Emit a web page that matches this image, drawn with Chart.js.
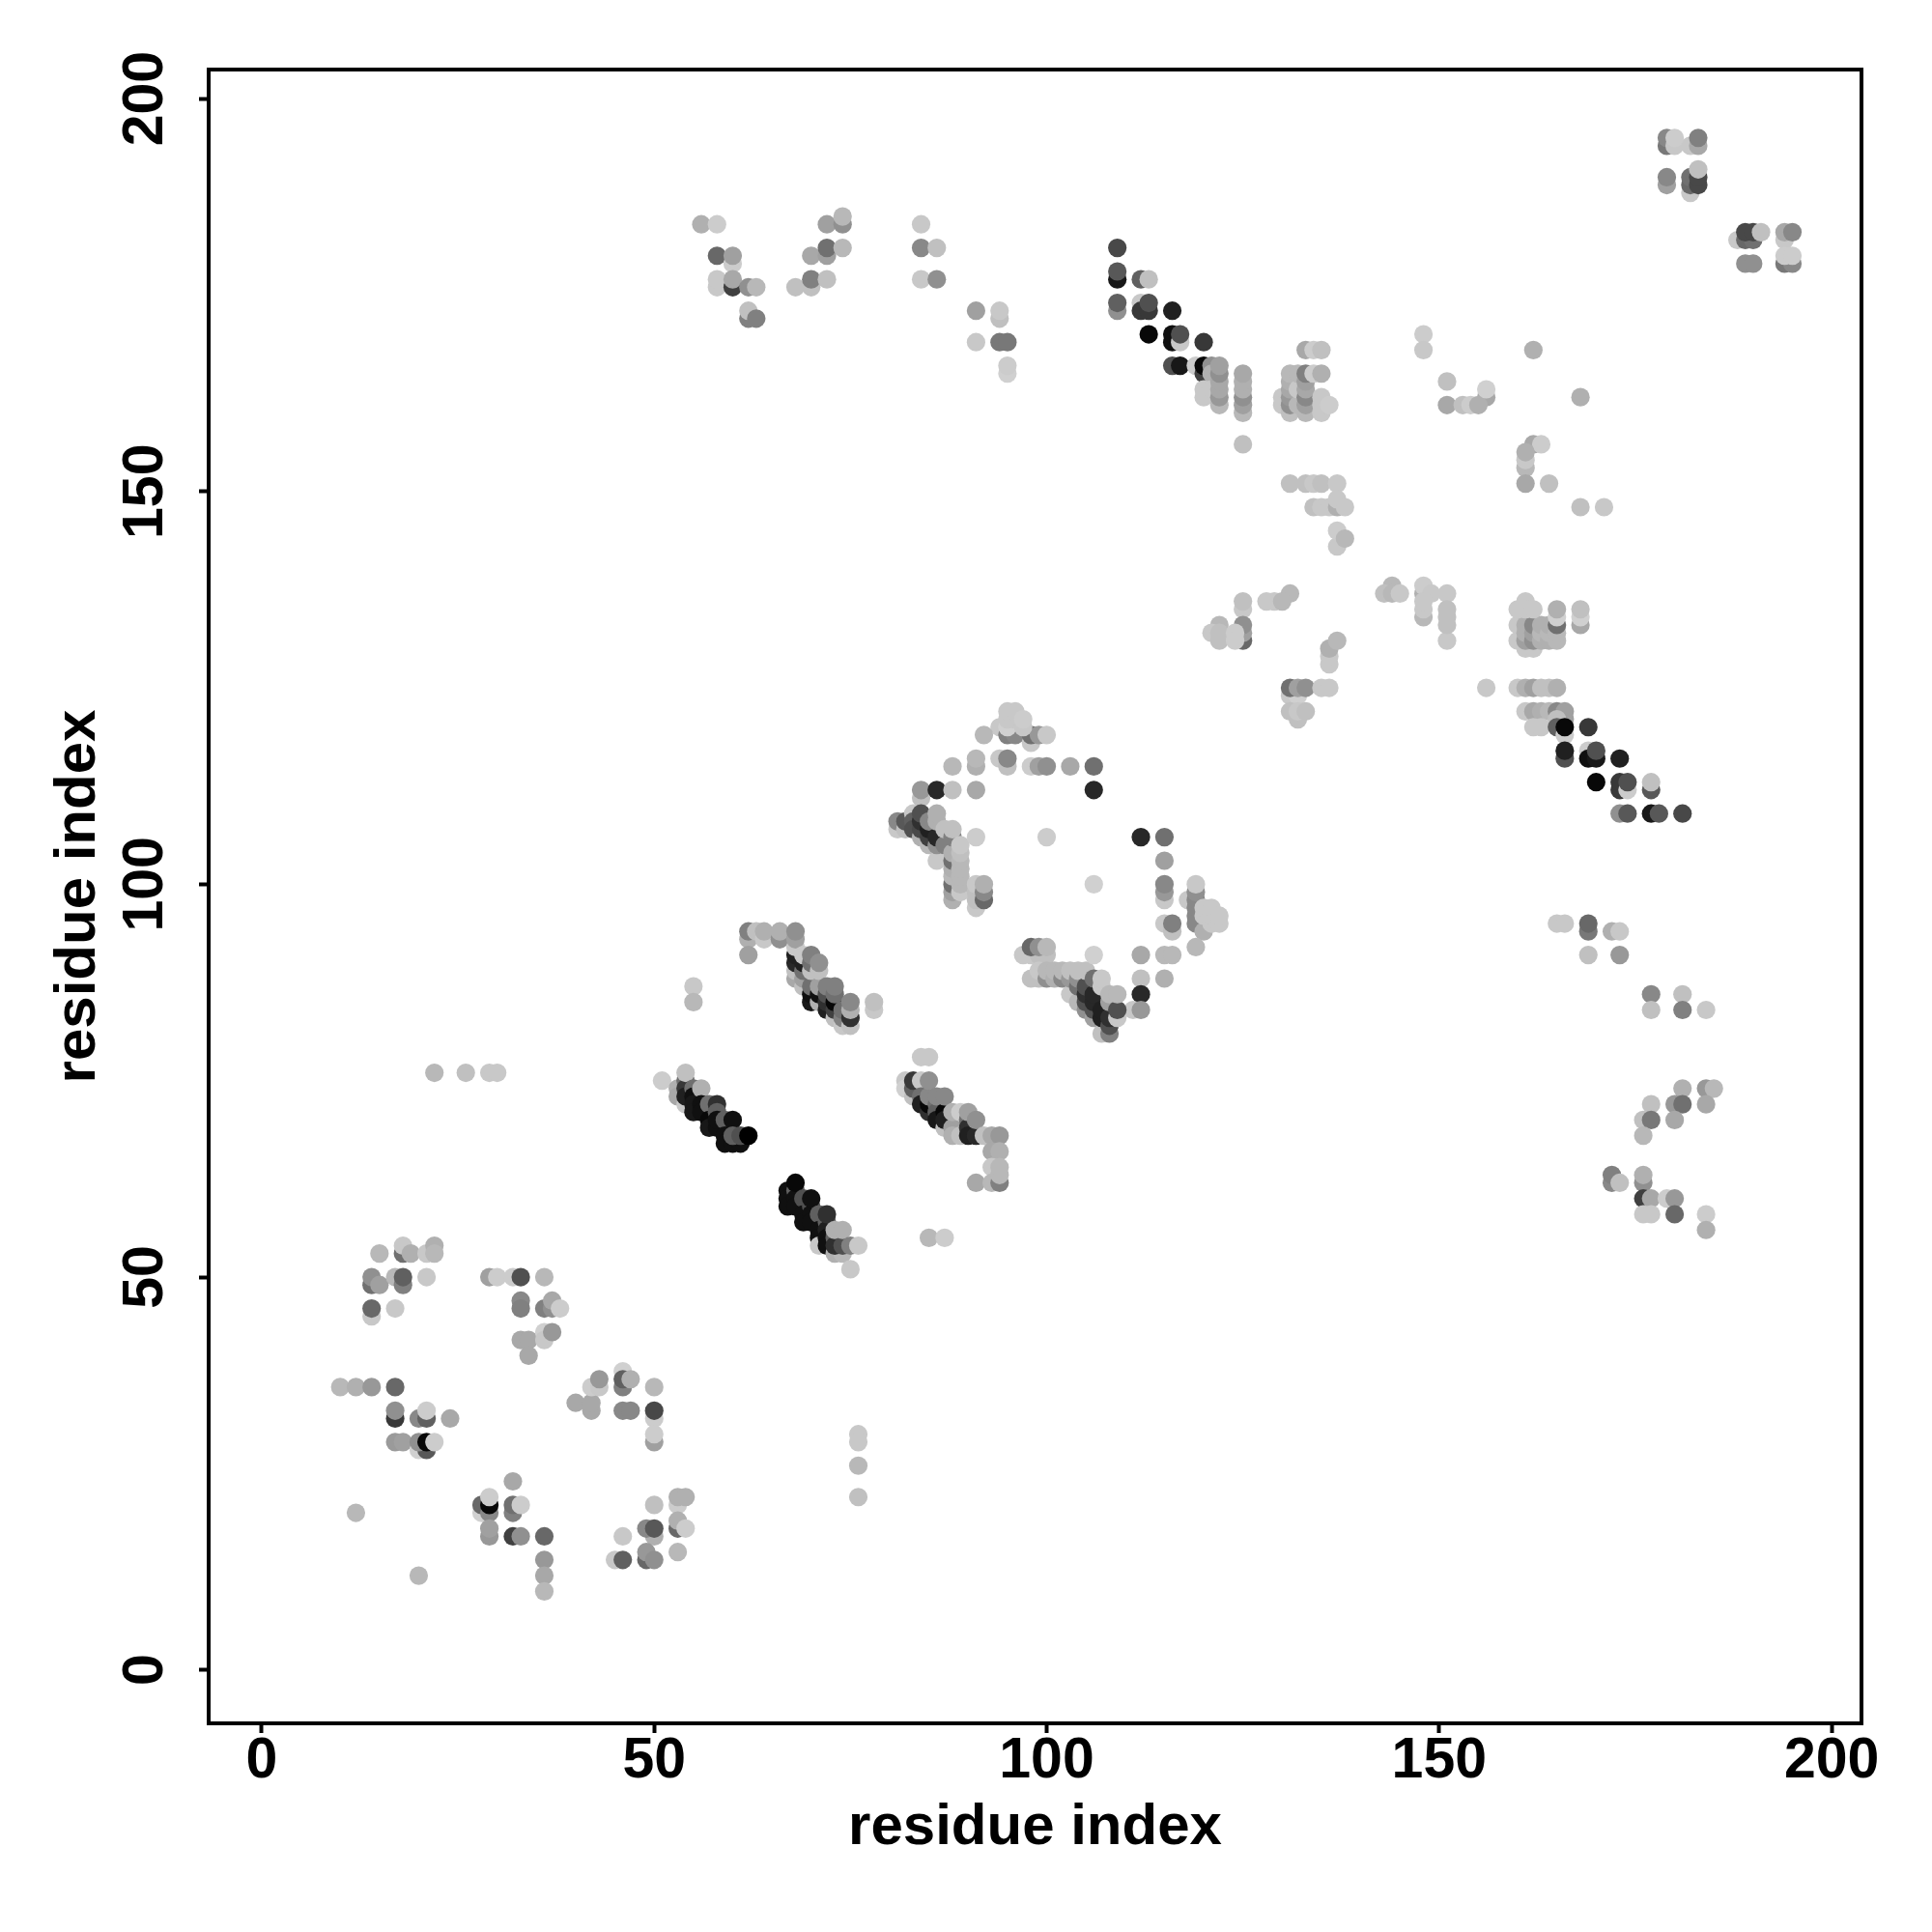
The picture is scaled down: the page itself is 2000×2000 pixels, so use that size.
<!DOCTYPE html>
<html lang="en">
  <head>
    <meta charset="UTF-8" />
    <title>residue contacts</title>
    <script src="https://cdn.jsdelivr.net/npm/chart.js@4/dist/chart.umd.min.js"></script>
    <style>
      body {
        margin: 0;
        padding: 0;
        background: white;
      }
    </style>
  </head>
  <body>
    <canvas id="contacts" width="2000" height="2000"></canvas>
    <script>
      // every contact is [residue x, residue y, grey level]
      const tickValues = [0, 50, 100, 150, 200]
      const xLimits = [-6.76, 203.8]
      const yLimits = [-6.8, 203.7]

      const lowerLeftA = [[15,53,0xb8],[18,53,0x70],[18,54,0xc8],[19,53,0xb0],[21,53,0xc8],[22,54,0xb0],[22,53,0xb8],[14,49,0x70],[14,50,0x90],[15,49,0xa0],[17,50,0xb8],[18,49,0x80],[18,50,0x60],[21,50,0xc8],[14,45,0xc8],[14,46,0x68],[17,46,0xc8]]
      const lowerLeftB = [[29,50,0xa0],[30,50,0xcc],[32,50,0xcc],[33,50,0x50],[36,50,0xb8],[33,47,0x88],[33,46,0x80],[36,46,0x80],[37,46,0x90],[37,47,0xa8],[38,46,0xcc],[33,42,0xa8],[34,42,0xa8],[34,40,0xa8],[36,43,0xd0],[36,42,0xc8],[37,43,0x98]]
      const lowerLeftC = [[10,36,0xb8],[12,36,0xb0],[14,36,0x98],[17,36,0x68],[17,32,0x38],[17,33,0x90],[20,32,0x88],[21,32,0x60],[21,33,0xcc],[24,32,0xa8],[17,29,0x9a],[18,29,0xa0],[20,28,0xd0],[21,28,0x58],[20,29,0x90],[21,29,0x08],[22,29,0xcc]]
      const lowerLeftD = [[40,34,0xa8],[42,33,0xa8],[42,34,0xa8],[42,36,0xcc],[43,36,0xc8],[43,37,0x98],[46,38,0xd0],[46,36,0x80],[46,37,0x60],[47,37,0xb0],[46,33,0x88],[47,33,0x88],[50,36,0xb8],[50,32,0xcc],[50,33,0x48],[50,29,0xa0],[50,30,0xcc]]
      const lowerLeftE = [[12,20,0xb8],[20,12,0xb8],[32,24,0xa8],[28,20,0xd0],[28,21,0x68],[29,20,0x88],[29,21,0x08],[29,22,0xcc],[29,17,0x98],[29,18,0xa0],[32,20,0x80],[32,21,0x70],[33,21,0xcc],[32,17,0x40],[33,17,0x90],[36,17,0x68],[36,14,0x98],[36,12,0xa8],[36,10,0xb8]]
      const lowerLeftF = [[50,21,0xc0],[53,21,0xcc],[53,22,0xb0],[54,22,0xb0],[53,18,0x68],[53,19,0xb0],[54,18,0xcc],[53,15,0xb8],[50,17,0xb0],[49,18,0x88],[50,18,0x58],[46,17,0xc8],[45,14,0xc8],[46,14,0x60],[49,14,0x68],[49,15,0x98],[50,14,0x90]]
      const strays = [[22,76,0xb8],[26,76,0xc0],[29,76,0xc8],[30,76,0xc8],[55,87,0xc8],[55,85,0xb8],[76,30,0xc8],[76,29,0xc8],[76,26,0xb8],[76,22,0xc0],[85,55,0xb8],[87,55,0xcc],[100,106,0xcc],[106,100,0xd0]]

      const bandA = [[51,75,0xcc],[53,74,0xb0],[53,73,0xa8],[54,72,0xc8],[54,75,0x70],[54,74,0x38],[54,73,0x20],[54,76,0xc0],[55,74,0x70],[55,73,0x10],[55,72,0x18],[56,74,0xb0],[55,71,0x18],[56,72,0x10],[56,71,0x10],[57,72,0x70],[58,72,0x30],[57,70,0x08],[57,69,0x18],[58,71,0x60],[58,69,0x10],[58,70,0x10],[59,70,0x60],[59,68,0x10],[60,70,0x10],[59,67,0x10],[60,67,0x10],[61,67,0x10],[60,68,0x60],[61,68,0x50],[62,68,0x00]]
      const bandB = [[67,61,0x10],[67,60,0x10],[67,59,0x10],[68,61,0x60],[68,60,0x10],[68,59,0x10],[68,62,0x08],[69,60,0x50],[69,58,0x10],[69,57,0x10],[70,59,0x50],[70,58,0x10],[70,57,0x10],[70,60,0x10],[71,58,0x60],[71,56,0x10],[71,55,0x10],[71,54,0xc8],[72,57,0x60],[72,56,0x20],[72,55,0x10],[72,54,0x10],[72,58,0x30],[73,53,0xb0],[74,53,0xb8],[73,55,0x60],[73,54,0x30],[73,56,0xb0],[74,54,0x50],[74,56,0xb0],[75,54,0x80],[76,54,0xc8],[75,51,0xc8]]
      const bandC = [[84,78,0xc8],[85,78,0xc8],[82,75,0xc8],[82,74,0xd0],[83,73,0xc0],[83,74,0x60],[83,75,0x38],[84,75,0xc8],[84,73,0x70],[84,72,0x20],[85,71,0x30],[85,72,0x08],[85,73,0x88],[85,75,0x90],[86,72,0x70],[86,71,0x60],[86,70,0x18],[86,73,0x88],[87,69,0xc0],[87,71,0x08],[87,70,0x20],[87,73,0x88],[88,69,0xa0],[88,68,0xb0],[88,71,0xb0],[89,68,0xc0],[89,71,0xcc],[90,70,0x70],[90,69,0x30],[90,68,0x20],[90,71,0xa0],[91,68,0x28],[91,70,0x90],[92,68,0xc0],[93,68,0xa8],[94,68,0x98],[93,66,0xa8],[94,66,0xb0],[93,64,0xc8],[91,62,0xa8],[93,62,0xb8],[94,62,0x80],[94,63,0xb8],[94,64,0xb8]]
      const bandD = [[62,93,0xb0],[62,94,0x80],[62,91,0xa0],[63,94,0xc0],[64,93,0xc8],[64,94,0xb0],[66,93,0x90],[66,94,0xb0],[68,88,0xa8],[68,89,0xc0],[68,90,0x28],[68,91,0x20],[68,92,0xc8],[68,93,0xa0],[68,94,0x90],[69,87,0xc0],[69,88,0xa0],[69,89,0x70],[69,90,0x20],[69,91,0xc8],[70,85,0x18],[70,86,0x10],[70,87,0x70],[70,89,0xc0],[70,90,0x70],[70,91,0x80],[71,85,0xb0],[71,86,0x10],[71,87,0xa0],[71,89,0xc0],[71,90,0x90],[72,84,0x20],[72,85,0x30],[72,86,0x50],[72,87,0x80],[73,83,0xc0],[73,84,0x40],[73,85,0x08],[73,86,0x70],[73,87,0x80],[74,82,0xc8],[74,83,0x80],[74,84,0x70],[75,82,0xc0],[75,83,0x30],[75,84,0xb0],[75,85,0x88],[78,84,0xc8],[78,85,0xc0]]

      const arcTop = [[94,120,0xc8],[92,119,0xb8],[95,119,0x80],[96,119,0x88],[95,120,0xd0],[95,121,0xc8],[96,121,0xc8],[95,122,0xc8],[96,122,0xc8],[98,118,0xc8],[98,119,0x70],[99,119,0x98],[97,120,0xc8],[97,121,0xcc],[100,119,0xc8],[88,115,0xb8],[91,115,0xb0],[91,116,0xb8],[94,116,0xc8],[95,115,0xc0],[95,116,0x88],[98,115,0xcc],[99,115,0xa0],[100,115,0x90],[103,115,0xa8],[106,115,0x70],[84,111,0xc0],[84,112,0x98],[86,112,0x28],[88,112,0xc0],[91,112,0xa8],[106,112,0x28]]
      const arcLeft = [[81,107,0xc8],[81,108,0x88],[82,107,0xc0],[82,108,0x58],[83,109,0xc8],[83,108,0x60],[83,107,0x50],[84,106,0xb0],[84,107,0x48],[84,108,0x30],[84,109,0x50],[85,105,0xb8],[85,106,0x40],[85,107,0x20],[85,108,0x88],[86,103,0xc8],[86,105,0x90],[86,106,0x28],[86,108,0xb0],[86,109,0xb0],[87,105,0x80],[87,107,0xc0],[88,98,0xb0],[88,99,0xa0],[88,100,0x70],[88,101,0xb8],[88,102,0xb0],[88,103,0x70],[88,104,0xb0],[88,106,0x80],[88,107,0xc0],[89,99,0xc8],[89,100,0xb8],[89,101,0xb8],[89,102,0xb8],[89,103,0xb8],[89,104,0xc0],[89,105,0xc8],[91,106,0xcc],[91,97,0xc8],[91,98,0xc0],[91,99,0xc0],[91,100,0xc8],[92,98,0x68],[92,99,0x88],[92,100,0xb0]]
      const arcRight = [[112,106,0x28],[115,106,0x70],[115,103,0xa0],[115,98,0xc8],[115,99,0x98],[115,100,0x88],[118,98,0xc8],[119,95,0x88],[119,96,0x88],[119,97,0x88],[119,98,0x88],[119,99,0x90],[119,100,0xc8],[120,94,0xb0],[120,96,0xc8],[120,97,0xc8],[121,95,0xc8],[121,96,0xc8],[121,97,0xc8],[122,95,0xc8],[122,96,0xc8],[115,95,0xc8],[116,94,0xc0],[116,95,0x80],[119,92,0xb8],[112,91,0xa8],[115,91,0xb8],[116,91,0xb8],[112,88,0xc0],[115,88,0xb0],[112,86,0x28],[111,84,0xc8],[112,84,0x98]]
      const arcBottom = [[97,91,0xc8],[98,91,0xc8],[99,91,0xc0],[100,91,0xc0],[98,92,0x68],[99,92,0x90],[100,92,0xb8],[98,88,0xc0],[99,88,0xc0],[99,89,0xc8],[100,88,0x90],[100,89,0xb8],[101,88,0xb0],[101,89,0xb8],[102,88,0x88],[102,89,0xb8],[103,86,0xc8],[103,88,0x98],[103,89,0xc0],[104,85,0xb8],[104,87,0x70],[104,88,0x90],[104,89,0xc0],[105,84,0x90],[105,85,0x50],[105,86,0x30],[105,87,0x50],[105,89,0xc0],[106,91,0xd0],[106,83,0xa0],[106,84,0x50],[106,85,0x28],[106,86,0x28],[106,88,0x70],[107,81,0xc0],[107,83,0x20],[107,84,0x20],[107,87,0xc8],[107,88,0xc8],[108,81,0x80],[108,82,0x50],[108,83,0x30],[108,85,0xa0],[108,86,0xb8],[109,83,0xc8],[109,84,0x50],[109,86,0xb8]]

      const upperMidA = [[56,184,0xb0],[58,184,0xcc],[58,180,0x68],[60,179,0xcc],[60,180,0xa0],[58,176,0xc8],[58,177,0xc8],[60,176,0x40],[60,177,0xa8],[62,176,0x90],[63,176,0xb8],[62,172,0x80],[62,173,0xc0],[63,172,0x80],[68,176,0xc0],[70,176,0xc0],[70,177,0x80],[72,177,0xc0],[70,180,0xa8],[72,180,0xa0],[72,181,0x70],[74,181,0xb8],[72,184,0xa0],[74,184,0x90],[74,185,0xb8],[84,184,0xc8],[84,181,0x88],[86,181,0xc0],[84,177,0xc8],[86,177,0x90],[91,173,0xa0],[94,172,0xc0],[94,173,0xc8],[91,169,0xc8],[94,169,0x78],[95,169,0x78],[95,165,0xd0],[95,166,0xcc]]
      const upperMidB = [[109,181,0x48],[109,177,0x18],[109,178,0x58],[109,173,0x90],[109,174,0x60],[112,177,0x60],[113,177,0xc0],[112,174,0xc8],[112,173,0x38],[113,173,0x38],[113,174,0x50],[116,173,0x20],[113,170,0x08],[116,169,0x10],[116,170,0x10],[117,169,0xc8],[117,170,0x50],[120,169,0x38],[116,166,0x50],[117,166,0x18],[119,166,0xcc],[120,165,0x40],[120,166,0x08],[121,166,0x90],[121,165,0xb0],[120,163,0xc8],[120,162,0xc8],[121,163,0xc8],[122,161,0xb8],[122,162,0x98],[122,163,0xa8],[122,164,0xa8],[122,165,0x90],[122,166,0xa0],[125,160,0xb8],[125,161,0xa0],[125,162,0x90],[125,163,0xb0],[125,164,0xb0],[125,165,0xa8],[125,156,0xc0]]
      const upperMidC = [[130,162,0xc8],[130,161,0xc8],[131,160,0xc0],[131,161,0x90],[131,162,0x98],[131,163,0xa8],[131,164,0xb0],[131,165,0xb8],[132,161,0xb8],[132,163,0xc8],[132,165,0xb8],[133,160,0xb8],[133,161,0xa0],[133,162,0x88],[133,163,0xa8],[133,164,0xa0],[133,165,0x80],[133,168,0xa8],[134,168,0xcc],[135,168,0xc0],[134,165,0xcc],[135,165,0xb0],[135,160,0xc8],[135,161,0xc8],[135,162,0xc8],[136,161,0xcc]]
      const upperMidD = [[148,170,0xcc],[148,168,0xc8],[162,168,0xb0],[151,164,0xc0],[151,161,0xa8],[153,161,0xc0],[154,161,0xcc],[156,162,0xa8],[155,161,0xb0],[156,163,0xd0],[168,162,0xb0],[162,156,0xa8],[163,156,0xcc],[161,153,0xb8],[161,154,0xc8],[161,155,0xb0],[161,151,0xa8],[164,151,0xc0],[168,148,0xc0],[171,148,0xc8],[131,151,0xc0],[133,151,0xc0],[134,151,0xc8],[135,151,0xc0],[137,151,0xc8],[134,148,0xc0],[135,148,0xc8],[136,148,0xc8],[137,148,0xb0],[137,149,0xc8],[138,148,0xc8],[137,143,0xc8],[137,145,0xcc],[138,144,0xb8]]
      const centre = [[144,138,0xb8],[143,137,0xc0],[144,137,0xb8],[145,137,0xc8],[148,137,0xb0],[148,138,0xcc],[149,137,0xc8],[151,137,0xc8],[148,134,0xb8],[148,135,0xc8],[148,136,0xc8],[151,131,0xc8],[151,133,0xc0],[151,134,0xc0],[151,135,0xc0],[125,135,0xc8],[125,136,0xc0],[128,136,0xc8],[129,136,0xc8],[131,137,0xb8],[130,136,0xb8],[125,131,0x68],[125,132,0xa0],[125,133,0x90],[122,133,0xb8],[121,132,0xc8],[122,132,0xc0],[122,131,0xc0],[124,132,0xcc],[124,131,0xcc],[136,128,0xc8],[136,129,0xc8],[136,130,0xb0],[137,131,0xb8]]
      const centreRight = [[160,131,0xc8],[161,130,0xc8],[162,130,0xc8],[160,133,0xc8],[161,133,0xb0],[161,131,0xa0],[161,132,0xb0],[162,131,0x90],[162,132,0xa0],[162,133,0x88],[163,131,0xb0],[163,132,0xb8],[163,133,0xb0],[164,131,0xb0],[164,132,0xb8],[164,133,0xb0],[165,131,0xb8],[165,132,0xb8],[165,133,0x70],[165,134,0xd0],[165,135,0xb0],[160,135,0xc8],[161,136,0xc8],[161,135,0xc8],[162,135,0xc8],[168,133,0xa8],[168,134,0xd0],[168,135,0xc0]]
      const lowerRightA = [[131,124,0xc8],[132,124,0xd0],[131,125,0x70],[132,125,0xa0],[133,125,0x90],[135,125,0xc8],[136,125,0xc8],[131,122,0xc0],[132,121,0xc0],[132,122,0xc8],[133,122,0xc0],[156,125,0xc8],[160,125,0xc8],[161,125,0xb0],[162,125,0xa0],[163,125,0xc0],[164,125,0xc0],[165,125,0xb0],[161,122,0xc8],[162,122,0xa8],[163,122,0xb0],[164,122,0xb8],[165,122,0x88],[166,121,0xa0],[166,122,0xa0],[162,120,0xc8],[163,120,0xc8],[165,121,0xc0],[165,120,0x60],[166,119,0xcc],[166,120,0x08],[169,120,0x38],[166,116,0x50],[166,117,0x20],[169,117,0xcc],[169,116,0x10],[170,116,0x18],[170,117,0x50],[173,116,0x20],[170,113,0x08],[173,112,0x38],[173,113,0x38],[174,112,0xcc],[174,113,0x50],[177,112,0x58],[177,113,0xc0],[173,109,0x90],[174,109,0x58],[177,109,0x18],[178,109,0x58],[181,109,0x48]]
      const lowerRightB = [[165,95,0xc8],[166,95,0xc8],[169,94,0x78],[169,95,0x68],[172,94,0xb0],[173,94,0xc8],[169,91,0xc0],[173,91,0x98],[177,86,0x88],[181,86,0xc0],[177,84,0xc0],[181,84,0x80],[184,84,0xc8],[181,74,0xb0],[184,74,0x98],[185,74,0xb8],[177,72,0xc0],[180,72,0x98],[181,72,0x70],[184,72,0xa8],[176,70,0xc0],[177,70,0x78],[180,70,0xa8],[176,68,0xb8],[172,62,0x88],[172,63,0x80],[173,62,0xc0],[176,62,0x90],[176,63,0xb0],[176,60,0x40],[177,60,0xa8],[179,60,0xcc],[180,60,0x98],[176,58,0xc8],[177,58,0xc8],[180,58,0x68],[184,58,0xcc],[184,56,0xb0]]
      const topRight = [[179,194,0x78],[179,195,0x88],[182,194,0xc8],[180,194,0xc8],[180,195,0xcc],[183,194,0xa8],[183,195,0x80],[179,189,0xa0],[179,190,0x88],[182,188,0xc8],[182,189,0x68],[182,190,0x70],[183,189,0x48],[183,190,0x48],[183,191,0xc0],[188,182,0xc8],[189,182,0x68],[190,182,0x70],[189,183,0x48],[190,183,0x48],[191,183,0xc0],[189,179,0x90],[190,179,0x90],[194,182,0xc8],[194,183,0xa8],[195,183,0x88],[194,179,0x78],[195,179,0x88],[194,180,0xcc],[195,180,0xcc]]

      const contacts = [
        lowerLeftA, lowerLeftB, lowerLeftC, lowerLeftD, lowerLeftE, lowerLeftF,
        strays, bandA, bandB, bandC, bandD, arcTop, arcLeft, arcRight, arcBottom,
        upperMidA, upperMidB, upperMidC, upperMidD, centre, centreRight,
        lowerRightA, lowerRightB, topRight,
      ].flat()

      const greyOf = (level) => `rgb(${level}, ${level}, ${level})`
      const tickFont = { family: '"Liberation Sans"', size: 59, weight: 'bold' }
      const titleFont = { family: '"Liberation Sans"', size: 60, weight: 'bold' }

      // box round the plot, R style
      const frame = {
        id: 'frame',
        afterDatasetsDraw(chart) {
          const { ctx, chartArea: a } = chart
          ctx.save()
          ctx.lineWidth = 4
          ctx.strokeStyle = '#000'
          ctx.strokeRect(a.left, a.top, a.right - a.left, a.bottom - a.top)
          ctx.restore()
        },
      }

      const axisOptions = {
        type: 'linear',
        border: { display: false },
        grid: {
          drawOnChartArea: false,
          drawTicks: true,
          tickLength: 10,
          tickWidth: 4,
          tickColor: '#000',
        },
        afterBuildTicks: (scale) => {
          scale.ticks = tickValues.map((value) => ({ value }))
        },
      }

      new Chart(document.getElementById('contacts').getContext('2d'), {
        type: 'scatter',
        data: {
          datasets: [
            {
              data: contacts.map((c) => ({ x: c[0], y: c[1] })),
              backgroundColor: contacts.map((c) => greyOf(c[2])),
              borderWidth: 0,
              pointRadius: 9.6,
              clip: false,
            },
          ],
        },
        options: {
          responsive: false,
          animation: false,
          devicePixelRatio: 1,
          layout: { padding: { top: 72, right: 73, left: 0, bottom: 0 } },
          plugins: {
            legend: { display: false },
            tooltip: { enabled: false },
          },
          scales: {
            x: {
              ...axisOptions,
              min: xLimits[0],
              max: xLimits[1],
              afterFit: (scale) => {
                scale.height = 216
              },
              ticks: {
                color: '#000',
                font: tickFont,
                padding: -6,
                maxRotation: 0,
                autoSkip: false,
                includeBounds: false,
              },
              title: {
                display: true,
                text: 'residue index',
                color: '#000',
                font: titleFont,
                padding: { top: 0, bottom: 72 },
              },
            },
            y: {
              ...axisOptions,
              min: yLimits[0],
              max: yLimits[1],
              afterFit: (scale) => {
                scale.width = 216
              },
              ticks: {
                color: '#000',
                font: tickFont,
                padding: 5,
                minRotation: 90,
                maxRotation: 90,
                crossAlign: 'center',
                autoSkip: false,
                includeBounds: false,
              },
              title: {
                display: true,
                text: 'residue index',
                color: '#000',
                font: titleFont,
                padding: { top: 45, bottom: 0 },
              },
            },
          },
        },
        plugins: [frame],
      })
    </script>
  </body>
</html>
